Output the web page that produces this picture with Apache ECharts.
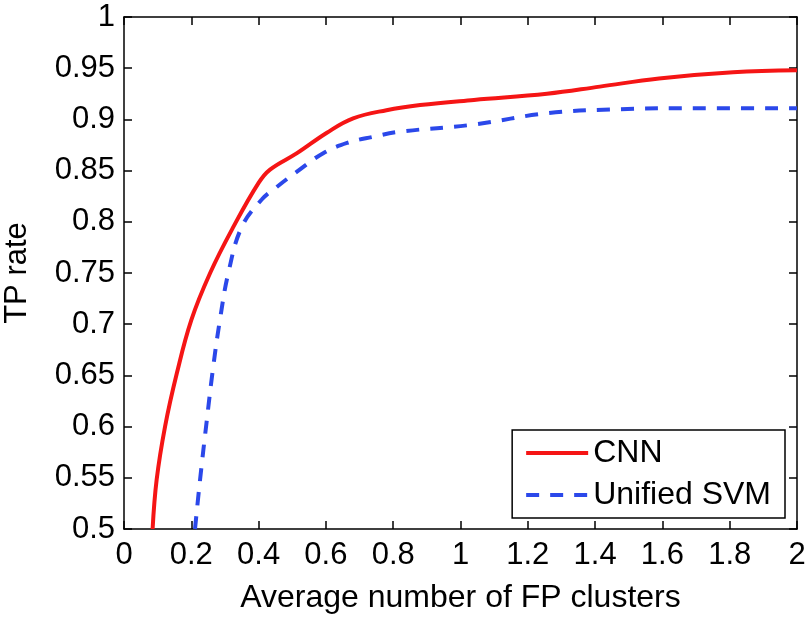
<!DOCTYPE html>
<html>
<head>
<meta charset="utf-8">
<script src="https://cdn.jsdelivr.net/npm/echarts@6/dist/echarts.min.js"></script>
<style>
  html, body { margin: 0; padding: 0; background: #fff; }
  #chart { width: 812px; height: 620px; }
</style>
</head>
<body>
<div id="chart"></div>
<script>
// values
const cnnFp = [0.085, 0.097, 0.122, 0.157, 0.2, 0.256, 0.325, 0.4, 0.434, 0.514, 0.603, 0.681, 0.78, 0.88, 1.04, 1.257, 1.414, 1.59, 1.81, 2.0]
const cnnTp = [0.5, 0.548, 0.6, 0.652, 0.704, 0.75, 0.795, 0.838, 0.851, 0.867, 0.887, 0.901, 0.909, 0.914, 0.919, 0.925, 0.932, 0.94, 0.946, 0.948]

const svmFp = [0.211, 0.226, 0.246, 0.265, 0.285, 0.31, 0.35, 0.41, 0.454, 0.514, 0.592, 0.663, 0.74, 0.82, 1.04, 1.257, 1.474, 1.7, 2.0]
const svmTp = [0.5, 0.548, 0.606, 0.658, 0.704, 0.75, 0.795, 0.822, 0.834, 0.849, 0.867, 0.877, 0.883, 0.888, 0.895, 0.906, 0.91, 0.911, 0.911]

const seriesNames = ['CNN', 'Unified SVM']

const font = 'Liberation Sans, Arial, Helvetica, sans-serif'

const chart = echarts.init(document.getElementById('chart'))

const mirrorAxis = {
  axisLine: { show: true, onZero: false, lineStyle: { color: '#000', width: 1.5 } },
  axisTick: { show: true, inside: true, length: 8, lineStyle: { color: '#000', width: 1.5 } },
  axisLabel: { show: false },
  splitLine: { show: false }
}

const option = {
  animation: false,
  backgroundColor: '#fff',
  grid: { left: 124, right: 15, top: 17, bottom: 91, outerBoundsMode: 'none', containLabel: false },
  legend: {
    orient: 'vertical',
    right: 27,
    top: 430,
    padding: [7, 14, 7, 12],
    itemWidth: 62,
    itemHeight: 14,
    itemGap: 10,
    backgroundColor: '#fff',
    borderColor: '#000',
    borderWidth: 1.5,
    itemStyle: { opacity: 0 },
    lineStyle: { width: 4 },
    textStyle: { fontFamily: font, fontSize: 32, color: '#000' },
    data: seriesNames
  },
  xAxis: [
    {
      type: 'value', min: 0, max: 2, interval: 0.2,
      name: 'Average number of FP clusters',
      nameLocation: 'middle', nameGap: 53,
      nameTextStyle: { fontFamily: font, fontSize: 32, color: '#000' },
      axisLine: { show: true, onZero: false, lineStyle: { color: '#000', width: 1.5 } },
      axisTick: { show: true, inside: true, length: 8, lineStyle: { color: '#000', width: 1.5 } },
      axisLabel: { fontFamily: font, fontSize: 31, color: '#000', margin: 11 },
      splitLine: { show: false }
    },
    Object.assign({ type: 'value', position: 'top', min: 0, max: 2, interval: 0.2 }, mirrorAxis)
  ],
  yAxis: [
    {
      type: 'value', min: 0.5, max: 1, interval: 0.05,
      name: 'TP rate',
      nameLocation: 'middle', nameGap: 91,
      nameTextStyle: { fontFamily: font, fontSize: 31, color: '#000' },
      axisLine: { show: true, onZero: false, lineStyle: { color: '#000', width: 1.5 } },
      axisTick: { show: true, inside: true, length: 8, lineStyle: { color: '#000', width: 1.5 } },
      axisLabel: { fontFamily: font, fontSize: 31, color: '#000', margin: 9 },
      splitLine: { show: false }
    },
    Object.assign({ type: 'value', position: 'right', min: 0.5, max: 1, interval: 0.05 }, mirrorAxis)
  ],
  series: [
    {
      name: seriesNames[0],
      type: 'line',
      smooth: 0.4,
      symbol: 'none',
      color: '#f51515',
      lineStyle: { color: '#f51515', width: 4 },
      data: cnnFp.map((x, i) => [x, cnnTp[i]])
    },
    {
      name: seriesNames[1],
      type: 'line',
      smooth: 0.4,
      symbol: 'none',
      color: '#2b48ea',
      lineStyle: { color: '#2b48ea', width: 4, type: [13, 11] },
      data: svmFp.map((x, i) => [x, svmTp[i]])
    }
  ]
}

chart.setOption(option)
</script>
</body>
</html>
